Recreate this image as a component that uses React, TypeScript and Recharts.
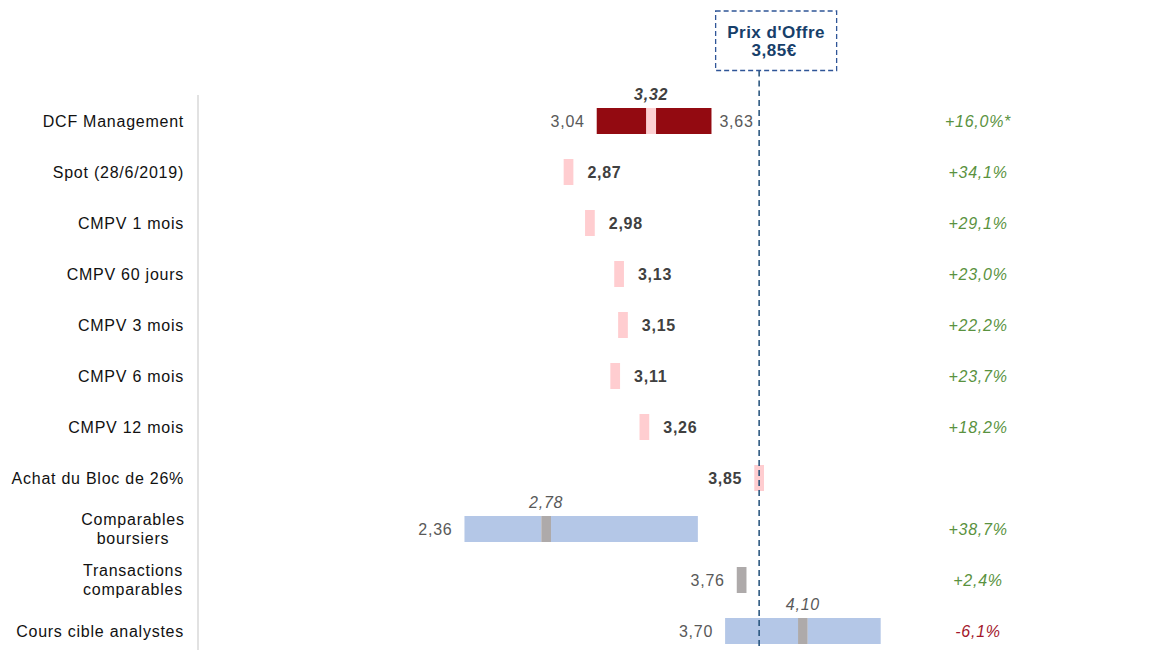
import React from 'react';
import { BarChart, Bar, XAxis, YAxis, Cell, LabelList, ReferenceLine } from 'recharts';

const categories = [
  'DCF Management',
  'Spot (28/6/2019)',
  'CMPV 1 mois',
  'CMPV 60 jours',
  'CMPV 3 mois',
  'CMPV 6 mois',
  'CMPV 12 mois',
  'Achat du Bloc de 26%',
  'Comparables\nboursiers',
  'Transactions\ncomparables',
  'Cours cible analystes',
];
const lowValues = [3.04, 2.87, 2.98, 3.13, 3.15, 3.11, 3.26, 3.85, 2.36, 3.76, 3.7];
const midValues: (number | null)[] = [3.32, null, null, null, null, null, null, null, 2.78, null, 4.1];
const highValues: (number | null)[] = [3.63, null, null, null, null, null, null, null, 3.56, null, 4.5];
const sources = ['dcf', 'market', 'market', 'market', 'market', 'market', 'market', 'market', 'peers', 'peers', 'peers'];
const premiums = ['+16,0%*', '+34,1%', '+29,1%', '+23,0%', '+22,2%', '+23,7%', '+18,2%', '', '+38,7%', '+2,4%', '-6,1%'];
const offerPrice = 3.85;

// which side the value label sits on for single-value rows
const pointLabelSide = ['', 'right', 'right', 'right', 'right', 'right', 'right', 'left', '', 'left', ''];

const MARK = 0.05;
const FONT = '"Liberation Sans", Arial, Helvetica, sans-serif';
const rangeColor: Record<string, string> = { dcf: '#930a11', market: '#ffcdd0', peers: '#b4c7e7' };
const markColor: Record<string, string> = { dcf: '#fdd0d2', market: '#ffcdd0', peers: '#aeaaaa' };

const fmt = (v: number) => v.toFixed(2).replace('.', ',');

const rows = categories.map((name, i) => {
  const low = lowValues[i];
  const mid = midValues[i];
  const high = highValues[i];
  const markStart = mid != null ? mid - MARK / 2 : low;
  return {
    name,
    base: low,
    seg1: markStart - low,
    mark: MARK,
    seg2: high != null ? high - markStart - MARK : 0,
  };
});

const vb = (p: any) => p.viewBox ?? p;
const txt = { fontFamily: FONT, fontSize: 16, letterSpacing: 0.75 };

const LeftLabel = (p: any) => {
  const i = p.index;
  const { x, y, width, height } = vb(p);
  const isRange = highValues[i] != null;
  if (!isRange && pointLabelSide[i] !== 'left') return null;
  const bold = !isRange && sources[i] === 'market';
  return (
    <text
      x={x + width - 12}
      y={y + height / 2 + 6}
      textAnchor="end"
      {...txt}
      fontWeight={bold ? 'bold' : 'normal'}
      fill={bold ? '#404040' : '#595959'}
    >
      {fmt(lowValues[i])}
    </text>
  );
};

const RightLabel = (p: any) => {
  const i = p.index;
  const high = highValues[i];
  if (high == null) return null;
  const { x, y, width, height } = vb(p);
  return (
    <text x={x + width + 8} y={y + height / 2 + 6} textAnchor="start" {...txt} fill="#595959">
      {fmt(high)}
    </text>
  );
};

const MarkLabel = (p: any) => {
  const i = p.index;
  const { x, y, width, height } = vb(p);
  const mid = midValues[i];
  if (mid != null) {
    const bold = sources[i] === 'dcf';
    return (
      <text
        x={x + width / 2}
        y={y - 8}
        textAnchor="middle"
        {...txt}
        fontStyle="italic"
        fontWeight={bold ? 'bold' : 'normal'}
        fill={bold ? '#404040' : '#595959'}
      >
        {fmt(mid)}
      </text>
    );
  }
  if (pointLabelSide[i] !== 'right') return null;
  return (
    <text x={x + width + 14} y={y + height / 2 + 6} textAnchor="start" {...txt} fontWeight="bold" fill="#404040">
      {fmt(lowValues[i])}
    </text>
  );
};

const CategoryTick = (p: any) => {
  const { x, y, payload } = p;
  const lines = String(payload.value).split('\n');
  if (lines.length === 1) {
    return (
      <text x={x} y={y + 6} textAnchor="end" {...txt} fill="#111">
        {lines[0]}
      </text>
    );
  }
  return (
    <text x={x - 51} y={y} textAnchor="middle" {...txt} fill="#111">
      {lines.map((l, k) => (
        <tspan key={k} x={x - 51} y={y + 6 + (k - (lines.length - 1) / 2) * 19.5}>
          {l}
        </tspan>
      ))}
    </text>
  );
};

const PremiumTick = (p: any) => {
  const { x, y, payload } = p;
  const i = categories.indexOf(payload.value);
  const v = premiums[i];
  if (!v) return null;
  return (
    <text
      x={x + 2}
      y={y + 6}
      textAnchor="middle"
      {...txt}
      fontStyle="italic"
      fill={v.startsWith('-') ? '#a3172b' : '#5a9240'}
    >
      {v}
    </text>
  );
};

const OfferLabel = (p: any) => {
  const { x, y } = vb(p);
  const top = y - 84;
  const bottom = y - 24.5;
  return (
    <g>
      <line x1={x} x2={x} y1={bottom} y2={y} stroke="#1f4e79" strokeWidth={1.5} strokeDasharray="6 4" />
      <rect x={x - 43.5} y={top} width={121} height={bottom - top} fill="#fff" stroke="#2f5597" strokeWidth={1.3} strokeDasharray="5 3" />
      <text x={x + 17} y={top + 26.5} textAnchor="middle" fontFamily={FONT} fontSize={17} letterSpacing={0.5} fontWeight="bold" fill="#17406a">
        Prix d'Offre
      </text>
      <text x={x + 15} y={top + 45} textAnchor="middle" fontFamily={FONT} fontSize={17} letterSpacing={0.5} fontWeight="bold" fill="#17406a">
        {fmt(offerPrice)}€
      </text>
    </g>
  );
};

export default function App() {
  return (
    <div style={{ position: 'absolute', left: 0, top: 0, width: 1163, height: 650, overflow: 'hidden', background: '#fff' }}>
      <BarChart
        width={1163}
        height={656}
        data={rows}
        layout="vertical"
        margin={{ top: 95, right: 87, bottom: 0, left: 0 }}
        barSize={26}
      >
        <XAxis type="number" hide domain={[0.99, 4.99]} allowDataOverflow />
        <YAxis
          yAxisId="left"
          type="category"
          dataKey="name"
          width={198}
          interval={0}
          tickLine={false}
          tickSize={6}
          tickMargin={8}
          axisLine={{ stroke: '#d9d9d9', strokeWidth: 1.5 }}
          tick={<CategoryTick />}
        />
        <YAxis
          yAxisId="right"
          orientation="right"
          type="category"
          dataKey="name"
          width={100}
          interval={0}
          tickLine={false}
          axisLine={false}
          tickSize={0}
          tickMargin={0}
          tick={<PremiumTick />}
        />
        <Bar dataKey="base" stackId="a" yAxisId="left" fill="transparent" isAnimationActive={false}>
          <LabelList dataKey="base" content={LeftLabel} />
        </Bar>
        <Bar dataKey="seg1" stackId="a" yAxisId="left" isAnimationActive={false}>
          {rows.map((_, i) => (
            <Cell key={i} fill={rangeColor[sources[i]]} />
          ))}
        </Bar>
        <Bar dataKey="mark" stackId="a" yAxisId="left" isAnimationActive={false}>
          {rows.map((_, i) => (
            <Cell key={i} fill={markColor[sources[i]]} />
          ))}
          <LabelList dataKey="mark" content={MarkLabel} />
        </Bar>
        <Bar dataKey="seg2" stackId="a" yAxisId="left" isAnimationActive={false}>
          {rows.map((_, i) => (
            <Cell key={i} fill={rangeColor[sources[i]]} />
          ))}
          <LabelList dataKey="seg2" content={RightLabel} />
        </Bar>
        <ReferenceLine
          x={offerPrice + MARK / 2}
          yAxisId="left"
          stroke="#1f4e79"
          strokeWidth={1.5}
          strokeDasharray="6 4"
          label={OfferLabel}
        />
      </BarChart>
    </div>
  );
}
